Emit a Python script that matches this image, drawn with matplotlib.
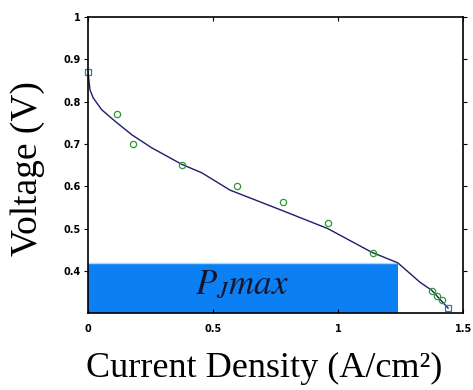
import matplotlib.pyplot as plt

# measured points (current density A/cm2, voltage V)
meas_i = [0.116, 0.18, 0.376, 0.596, 0.78, 0.96, 1.14, 1.376, 1.396, 1.416]
meas_v = [0.771, 0.70, 0.651, 0.60, 0.562, 0.513, 0.442, 0.353, 0.341, 0.332]

# end points (squares)
end_i = [0.0, 1.439]
end_v = [0.871, 0.312]

# fitted polarisation curve
fit_i = [0, 0.008, 0.021, 0.055, 0.108, 0.175, 0.255, 0.375, 0.455, 0.568,
         0.78, 0.959, 1.135, 1.239, 1.328, 1.375, 1.44]
fit_v = [0.871, 0.828, 0.809, 0.781, 0.754, 0.722, 0.691, 0.652, 0.632, 0.591,
         0.542, 0.50, 0.444, 0.419, 0.373, 0.354, 0.312]

# max power point rectangle
pmax_i = 1.239
pmax_v = 0.419

xticks = [0, 0.5, 1, 1.5]
xticklabels = ['0', '0.5', '1', '1.5']
yticks = [0.4, 0.5, 0.6, 0.7, 0.8, 0.9, 1.0]
yticklabels = ['0.4', '0.5', '0.6', '0.7', '0.8', '0.9', '1']

plt.rcParams['mathtext.fontset'] = 'stix'
fig = plt.figure(figsize=(4.73, 3.9), dpi=100)
ax = fig.add_axes([0.186, 0.197, 0.793, 0.759])

ax.bar(0, pmax_v - 0.3, width=pmax_i, bottom=0.3, align='edge',
       color='#0c7ff2', edgecolor='none', zorder=1)
ax.plot([0, pmax_i], [pmax_v, pmax_v], color='#9fe0ff', lw=1, zorder=1.5)
ax.text(0.616, 0.346, r'$P_J max$', fontsize=25, color='#15152e',
        ha='center', va='baseline', zorder=3)

ax.plot(fit_i, fit_v, color='#1c1c70', lw=1, zorder=2)
ax.plot(meas_i, meas_v, 'o', mfc='none', mec='#2e9a2e', ms=4.5, mew=0.9,
        zorder=2.5, clip_on=False)
ax.plot(end_i, end_v, 's', mfc='none', mec='#2f7f8f', ms=4.5, mew=0.9,
        zorder=2.5, clip_on=False)

ax.set_xlim(0, 1.5)
ax.set_ylim(0.3, 1.0)
ax.set_xticks(xticks)
ax.set_xticklabels(xticklabels, fontweight='bold', fontsize=7)
ax.set_yticks(yticks)
ax.set_yticklabels(yticklabels, fontweight='bold', fontsize=7)
ax.tick_params(axis='y', direction='out', length=3, pad=2)
ax.tick_params(axis='x', direction='in', length=3, pad=8)
ax.tick_params(top=True, right=True, labeltop=False, labelright=False)
for s in ax.spines.values():
    s.set_linewidth(1.2)

ax.set_xlabel('Current Density (A/cm²)', family='Liberation Serif', fontsize=26)
ax.set_ylabel('Voltage (V)', family='Liberation Serif', fontsize=27)
ax.xaxis.set_label_coords(0.47, -0.13)
ax.yaxis.set_label_coords(-0.115, 0.49)

fig.savefig('out.png', dpi=100)
